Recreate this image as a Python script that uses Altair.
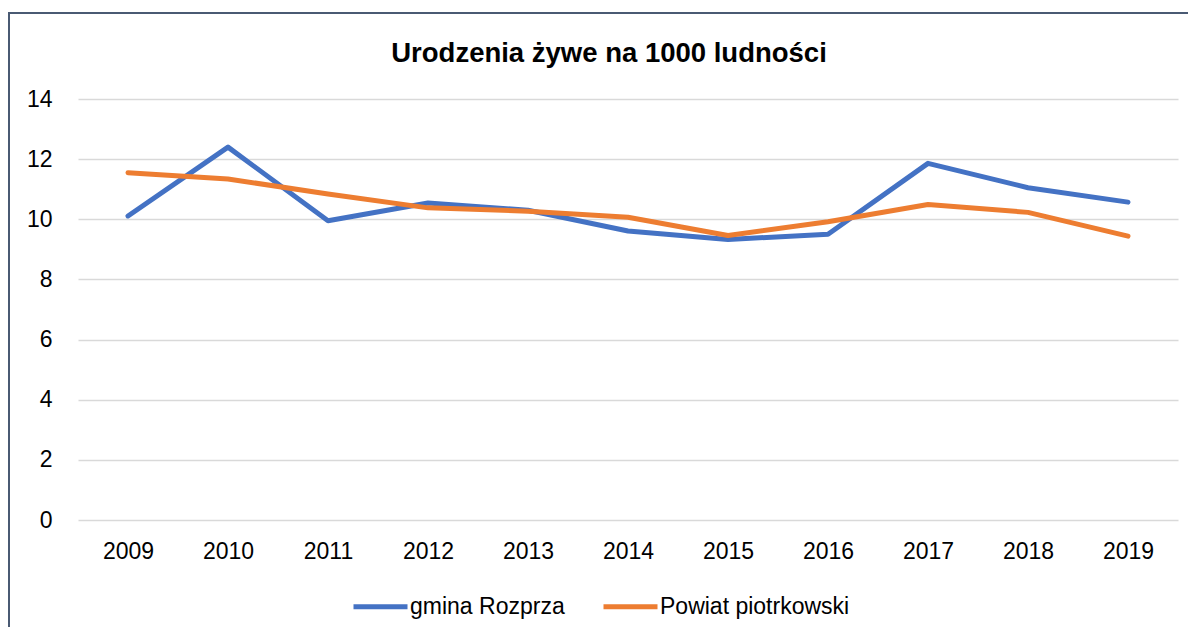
import altair as alt
import pandas as pd

years = ["2009", "2010", "2011", "2012", "2013", "2014", "2015", "2016", "2017", "2018", "2019"]
gmina = [10.11, 12.40, 9.95, 10.54, 10.30, 9.61, 9.33, 9.50, 11.86, 11.05, 10.57]
powiat = [11.55, 11.34, 10.84, 10.38, 10.27, 10.07, 9.46, 9.92, 10.49, 10.23, 9.44]
series = ["gmina Rozprza", "Powiat piotrkowski"]
colors = ["#4472C4", "#ED7D31"]
title_text = "Urodzenia żywe na 1000 ludności"
y_ticks = [0, 2, 4, 6, 8, 10, 12, 14]

rows = []
for name, vals in zip(series, [gmina, powiat]):
    for yr, v in zip(years, vals):
        rows.append({"Rok": yr, "Seria": name, "Wartosc": v})
df = pd.DataFrame(rows)

FONT = "Liberation Sans"

lines = alt.Chart(df).mark_line(strokeWidth=5, strokeCap="round", strokeJoin="round").encode(
    x=alt.X("Rok:O", sort=years, title=None,
            scale=alt.Scale(type="point", padding=0.5),
            axis=alt.Axis(labelAngle=0, ticks=False, domain=False, grid=False,
                          labelPadding=20, labelFontSize=23, labelColor="#000000",
                          labelFont=FONT)),
    y=alt.Y("Wartosc:Q", title=None,
            scale=alt.Scale(domain=[0, 14], nice=False, zero=True),
            axis=alt.Axis(values=y_ticks, ticks=False, domain=False, grid=True,
                          gridColor="#D9D9D9", gridWidth=1.5,
                          labelPadding=26, labelFontSize=23, labelColor="#000000",
                          labelFont=FONT)),
    color=alt.Color("Seria:N", sort=series,
                    scale=alt.Scale(domain=series, range=colors),
                    legend=alt.Legend(title=None, orient="none", direction="horizontal",
                                      legendX=273, legendY=478,
                                      symbolType="stroke", symbolSize=2916,
                                      symbolStrokeWidth=5, labelOffset=0,
                                      columnPadding=28, labelFontSize=23,
                                      labelLimit=0,
                                      labelFont=FONT, labelColor="#000000")),
)

title_df = pd.DataFrame({"t": [title_text]})
title = alt.Chart(title_df).mark_text(
    font=FONT, fontSize=27.5, fontWeight="bold", color="#000000",
    align="center", baseline="alphabetic"
).encode(text="t:N", x=alt.value(531), y=alt.value(-37))

frame = alt.Chart(title_df).mark_rect(
    fill=None, stroke="#4A5A73", strokeWidth=2
).encode(x=alt.value(-69), x2=alt.value(1400), y=alt.value(-86), y2=alt.value(800))

chart = alt.layer(frame, lines, title).properties(
    width=1100, height=421,
    background="white",
    padding={"left": 70, "top": 91, "right": 10, "bottom": 107},
    autosize=alt.AutoSizeParams(type="none"),
).configure_view(stroke=None, strokeWidth=0)

chart.save("out.html", embed_options={"renderer": "svg", "actions": False})
